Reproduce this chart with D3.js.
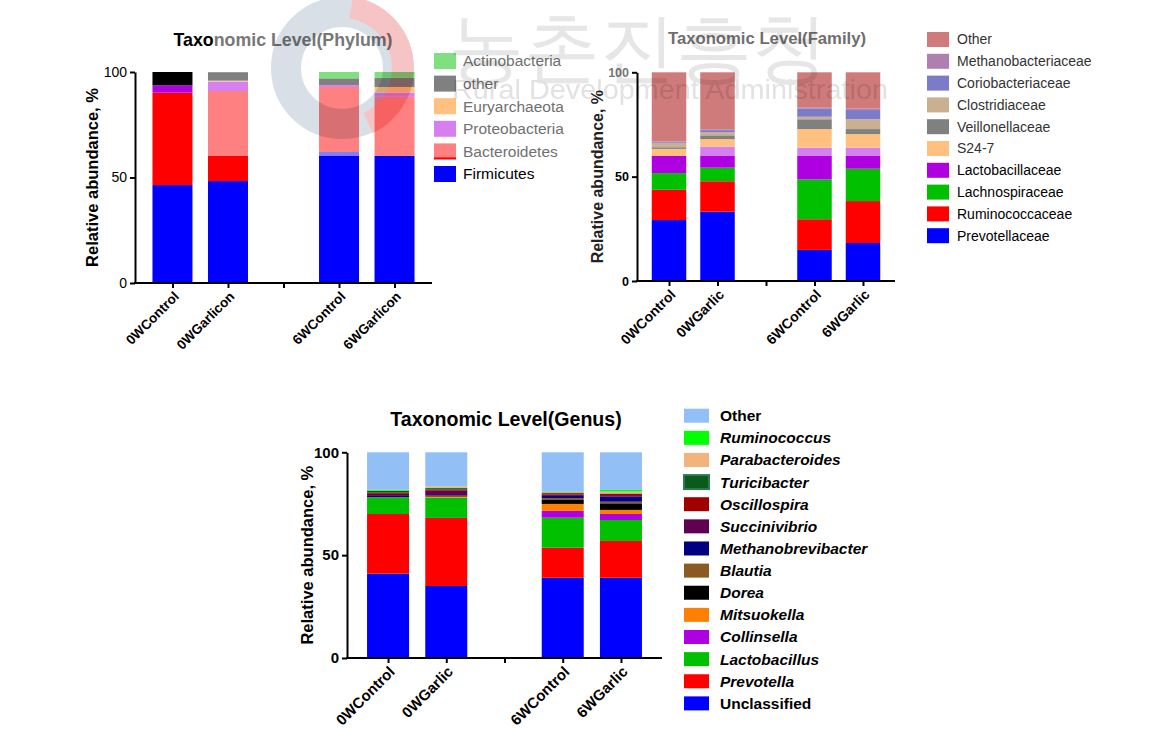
<!DOCTYPE html>
<html><head><meta charset="utf-8">
<script src="https://cdn.jsdelivr.net/npm/d3@7"></script>
<style>
html,body{margin:0;padding:0;background:#fff;}
svg text{font-family:"Liberation Sans",Arial,sans-serif;}
</style></head>
<body>
<svg id="chart" width="1172" height="754"></svg>
<script>
// ---------------- DATA ----------------
// Phylum
const phylumSlots = ["0WControl", "0WGarlicon", " ", "6WControl", "6WGarlicon"];
const phylumKeys = ["Firmicutes", "Firmicutes (b)", "Bacteroidetes (b)", "Bacteroidetes", "Proteobacteria (b)", "Proteobacteria", "Euryarchaeota", "other (b)", "other", "Actinobacteria"];
const phylumColors = ["#0000ff", "#8080ff", "#ff0000", "#ff8080", "#ae00e0", "#d680f0", "#ffc080", "#000000", "#808080", "#80e080"];
const phylumFirmicutes = [46.4, 48.3, 60.2, 60.2];
const phylumFirmicutesB = [0, 0, 1.9, 0];
const phylumBacteroidetesB = [43.8, 11.9, 0, 0];
const phylumBacteroidetes = [0, 30.8, 30.8, 28.0];
const phylumProteobacteriaB = [3.5, 0, 0, 0];
const phylumProteobacteria = [0, 4.5, 0.9, 2.0];
const phylumEuryarchaeota = [0, 0.4, 0, 2.7];
const phylumOtherB = [6.3, 0, 0, 0];
const phylumOther = [0, 4.0, 3.2, 4.3];
const phylumActinobacteria = [0, 0, 3.0, 2.8];
const phylumLegend = ["Actinobacteria", "other", "Euryarchaeota", "Proteobacteria", "Bacteroidetes", "Firmicutes"];

// Family
const familySlots = ["0WControl", "0WGarlic", " ", "6WControl", "6WGarlic"];
const familyKeys = ["Prevotellaceae", "Ruminococcaceae", "Lachnospiraceae", "Lactobacillaceae", "(unlisted)", "S24-7", "Veillonellaceae", "Clostridiaceae", "Coriobacteriaceae", "Methanobacteriaceae", "Other"];
const familyColors = ["#0000ff", "#ff0000", "#00c000", "#ae00e0", "#d680f0", "#ffc080", "#808080", "#c8b090", "#7b7bc8", "#b07fb0", "#d07b7b"];
const familyPrevotellaceae = [29.2, 33.2, 14.9, 18.2];
const familyRuminococcaceae = [14.5, 14.6, 14.7, 20.1];
const familyLachnospiraceae = [8.0, 6.5, 19.1, 15.5];
const familyLactobacillaceae = [8.2, 5.6, 11.2, 6.1];
const familyUnlisted = [0, 4.5, 4.0, 4.0];
const familyS247 = [3.4, 3.6, 8.9, 6.5];
const familyVeillonellaceae = [0.8, 1.8, 4.7, 2.4];
const familyClostridiaceae = [1.9, 1.5, 1.2, 4.7];
const familyCoriobacteriaceae = [0.5, 1.0, 4.0, 4.4];
const familyMethanobacteriaceae = [0.3, 0.4, 0.3, 0.8];
const familyOther = [33.2, 27.3, 17.0, 17.3];
const familyLegend = ["Other", "Methanobacteriaceae", "Coriobacteriaceae", "Clostridiaceae", "Veillonellaceae", "S24-7", "Lactobacillaceae", "Lachnospiraceae", "Ruminococcaceae", "Prevotellaceae"];

// Genus
const genusSlots = ["0WControl", "0WGarlic", " ", "6WControl", "6WGarlic"];
const genusKeys = ["Unclassified", "Prevotella", "Lactobacillus", "Collinsella", "Mitsuokella", "Dorea", "Blautia", "Methanobrevibacter", "Succinivibrio", "Oscillospira", "Turicibacter", "Parabacteroides", "Ruminococcus", "Other"];
const genusColors = ["#0000ff", "#ff0000", "#00c000", "#ae00e0", "#ff8000", "#000000", "#8b5a22", "#000080", "#600050", "#a00000", "#0b5a1a", "#f0b47c", "#00ff00", "#93bff7"];
const genusUnclassified = [41.0, 35.0, 39.0, 39.0];
const genusPrevotella = [29.0, 33.1, 14.6, 17.9];
const genusLactobacillus = [8.0, 9.8, 14.6, 10.2];
const genusCollinsella = [0, 0, 3.3, 2.9];
const genusMitsuokella = [0, 0.3, 3.4, 2.0];
const genusDorea = [0.1, 0, 2.2, 3.2];
const genusBlautia = [0.1, 0.6, 0.7, 0.8];
const genusMethanobrevibacter = [0.6, 0.3, 1.0, 2.4];
const genusSuccinivibrio = [1.0, 2.2, 0.6, 0.8];
const genusOscillospira = [0.6, 0.5, 0.7, 0.6];
const genusTuricibacter = [0.8, 0.8, 0.3, 0.2];
const genusParabacteroides = [0.1, 0.8, 0.2, 0.9];
const genusRuminococcus = [0.5, 0.1, 0.3, 0.8];
const genusOther = [18.2, 16.5, 19.1, 18.3];
const genusLegend = ["Other", "Ruminococcus", "Parabacteroides", "Turicibacter", "Oscillospira", "Succinivibrio", "Methanobrevibacter", "Blautia", "Dorea", "Mitsuokella", "Collinsella", "Lactobacillus", "Prevotella", "Unclassified"];
const yTicks = [0, 50, 100];

// ---------------- DRAW ----------------
const svg = d3.select("#chart");
const FONT = '"Liberation Sans",Arial,sans-serif';

function drawStack(o) {
  const g = svg.append("g");
  const x = d3.scalePoint().domain(o.slots).range([o.x0, o.x1]).padding(o.pad);
  const y = d3.scaleLinear().domain([0, 100]).range([o.y0, o.y1]);
  const bars = o.slots.filter(s => s.trim() !== "");
  const rows = bars.map((b, i) => {
    const r = { cat: b };
    o.keys.forEach((k, j) => r[k] = o.values[j][i]);
    return r;
  });
  const stacked = d3.stack().keys(o.keys)(rows);
  const color = d3.scaleOrdinal().domain(o.keys).range(o.colors);
  g.selectAll("g.layer").data(stacked).join("g")
    .attr("fill", d => color(d.key))
    .selectAll("rect").data(d => d).join("rect")
    .attr("x", d => x(d.data.cat) - o.bw / 2)
    .attr("width", o.bw)
    .attr("y", d => y(d[1]))
    .attr("height", d => Math.max(0, y(d[0]) - y(d[1])));

  // y axis
  const ya = g.append("g").attr("transform", `translate(${o.x0},0)`)
    .call(d3.axisLeft(y).tickValues(yTicks).tickSize(5).tickSizeOuter(0).tickPadding(3));
  ya.select(".domain").attr("stroke-width", 2).attr("stroke", o.axisColor || "#000");
  ya.selectAll(".tick line").attr("stroke-width", 2);
  ya.selectAll(".tick text").attr("font-family", FONT).attr("font-size", o.tickSize)
    .attr("font-weight", o.tickWeight).attr("fill", "#000");
  if (o.tick100Color) ya.selectAll(".tick text").filter(d => d === 100).attr("fill", o.tick100Color);

  // x axis
  const xa = g.append("g").attr("transform", `translate(0,${o.y0})`)
    .call(d3.axisBottom(x).tickSize(5).tickSizeOuter(0).tickFormat(""));
  xa.select(".domain").attr("stroke-width", 2).attr("d", `M${o.x0 - 1},0H${o.x1}`);
  xa.selectAll(".tick line").attr("stroke-width", 2);
  g.append("g").selectAll("text").data(bars).join("text")
    .attr("transform", d => `translate(${x(d) + 4},${o.y0 + 11}) rotate(-45)`)
    .attr("text-anchor", "end").attr("dy", "0.35em")
    .attr("font-size", o.xLabelSize).attr("font-weight", "bold")
    .text(d => d);

  // y label
  g.append("text")
    .attr("transform", `translate(${o.ylabelX},${(o.y0 + o.y1) / 2}) rotate(-90)`)
    .attr("text-anchor", "middle").attr("font-size", o.ylabelSize).attr("font-weight", "bold")
    .attr("fill", o.ylabelColor || "#000")
    .text("Relative abundance, %");

  // legend
  const lg = g.append("g");
  o.legend.forEach((name, i) => {
    const ly = o.legY + i * o.legStep;
    const c = (o.legendColors && o.legendColors[name]) || color(name);
    lg.append("rect").attr("x", o.legX).attr("y", ly - o.swH / 2).attr("width", o.swW).attr("height", o.swH)
      .attr("fill", c).attr("stroke", name === "Turicibacter" ? "#2a7a5a" : "none").attr("stroke-width", name === "Turicibacter" ? 2 : 0);
    if (o.underline && o.underline[name]) {
      lg.append("rect").attr("x", o.legX).attr("y", ly + o.swH / 2 - 2).attr("width", o.swW).attr("height", 2).attr("fill", o.underline[name]);
    }
    lg.append("text").attr("x", o.legX + o.swW + o.legGap).attr("y", ly).attr("dy", "0.35em")
      .attr("font-size", o.legSize).attr("font-weight", o.legWeight)
      .attr("font-style", o.italic && o.italic(name) ? "italic" : "normal")
      .attr("fill", (o.legTextColor && o.legTextColor(name, i)) || "#000")
      .text(name);
  });
  return g;
}

drawStack({
  slots: phylumSlots, keys: phylumKeys, colors: phylumColors,
  values: [phylumFirmicutes, phylumFirmicutesB, phylumBacteroidetesB, phylumBacteroidetes, phylumProteobacteriaB, phylumProteobacteria, phylumEuryarchaeota, phylumOtherB, phylumOther, phylumActinobacteria],
  x0: 135, x1: 432, pad: 0.675, y0: 283, y1: 72, bw: 40,
  tickSize: 14, tickWeight: "normal", xLabelSize: 13.5,
  ylabelX: 98, ylabelSize: 16.5,
  legend: phylumLegend, legX: 434, legY: 61, legStep: 22.6, swW: 22, swH: 16, legGap: 7,
  legSize: 15.5, legWeight: "normal", underline: { "Bacteroidetes": "#ff0000" },
  legTextColor: (n, i) => i < 5 ? "#707070" : "#000"
});

drawStack({
  slots: familySlots, keys: familyKeys, colors: familyColors,
  values: [familyPrevotellaceae, familyRuminococcaceae, familyLachnospiraceae, familyLactobacillaceae, familyUnlisted, familyS247, familyVeillonellaceae, familyClostridiaceae, familyCoriobacteriaceae, familyMethanobacteriaceae, familyOther],
  x0: 637, x1: 895, pad: 0.66, y0: 281, y1: 72.3, bw: 34.5,
  tickSize: 12.5, tickWeight: "bold", tick100Color: "#777", xLabelSize: 14,
  ylabelX: 603, ylabelSize: 16, ylabelColor: "#222",
  legend: familyLegend, legX: 927, legY: 39.5, legStep: 21.8, swW: 22, swH: 15, legGap: 8,
  legSize: 14, legWeight: "normal",
  legTextColor: (n, i) => i < 6 ? "#333" : "#000"
});

drawStack({
  slots: genusSlots, keys: genusKeys, colors: genusColors,
  values: [genusUnclassified, genusPrevotella, genusLactobacillus, genusCollinsella, genusMitsuokella, genusDorea, genusBlautia, genusMethanobrevibacter, genusSuccinivibrio, genusOscillospira, genusTuricibacter, genusParabacteroides, genusRuminococcus, genusOther],
  x0: 347, x1: 662, pad: 0.705, y0: 658, y1: 452.3, bw: 42,
  tickSize: 15, tickWeight: "bold", xLabelSize: 15,
  ylabelX: 313, ylabelSize: 16.5,
  legend: genusLegend, legX: 684, legY: 415.7, legStep: 22.13, swW: 25, swH: 14, legGap: 11,
  legSize: 15.5, legWeight: "bold", italic: n => n !== "Other" && n !== "Unclassified"
});

// titles
const ptitle = svg.append("text").attr("x", 283).attr("y", 46).attr("text-anchor", "middle")
  .attr("font-size", 17.8).attr("font-weight", "bold");
ptitle.append("tspan").attr("fill", "#000").text("Taxo");
ptitle.append("tspan").attr("fill", "#777").text("nomic Level(Phylum)");
svg.append("text").attr("x", 767).attr("y", 44).attr("text-anchor", "middle")
  .attr("font-size", 16.7).attr("font-weight", "bold").attr("fill", "#6e6e6e")
  .text("Taxonomic Level(Family)");
svg.append("text").attr("x", 506).attr("y", 426).attr("text-anchor", "middle")
  .attr("font-size", 19.6).attr("font-weight", "bold").attr("fill", "#000")
  .text("Taxonomic Level(Genus)");

// watermark (faint, multiplied)
const wm = svg.append("g").style("mix-blend-mode", "multiply");
wm.append("circle").attr("cx", 342).attr("cy", 68).attr("r", 56)
  .attr("fill", "none").attr("stroke", "#d8dfe6").attr("stroke-width", 30);
wm.append("path")
  .attr("d", d3.arc().innerRadius(50).outerRadius(72).startAngle(0.15).endAngle(2.7)())
  .attr("transform", "translate(342,68)").attr("fill", "#f6c4c4");
wm.append("text").attr("x", 448).attr("y", 74).attr("font-family", '"Noto Sans CJK KR"')
  .attr("font-size", 76).attr("font-weight", 300).attr("fill", "#e6e6e6").text("농촌진흥청");
wm.append("text").attr("x", 452).attr("y", 99).attr("font-size", 27).attr("fill", "#e2e2e2")
  .attr("textLength", 436).attr("lengthAdjust", "spacingAndGlyphs")
  .text("Rural Development Administration");
</script>
</body></html>
